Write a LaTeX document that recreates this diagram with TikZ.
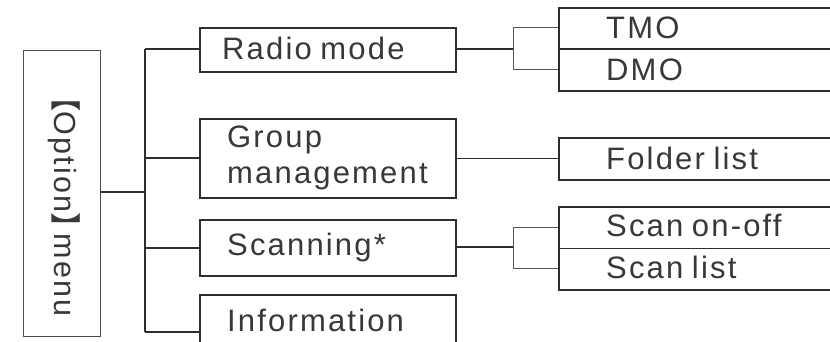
\documentclass[tikz,border=0pt]{standalone}
\usepackage{fontspec}
\setmainfont[LetterSpace=7,WordSpace=0.8]{Liberation Sans}
\newfontfamily\cjk{Noto Sans CJK SC}
\definecolor{ink}{HTML}{2E2E2E}
\definecolor{txt}{HTML}{383838}
\definecolor{thin}{HTML}{555555}
\begin{document}
\begin{tikzpicture}[x=1pt,y=-1pt,
  box/.style={draw=ink,line width=1.6pt,anchor=north west,inner sep=0pt},
  lbl/.style={anchor=base west,inner sep=0pt,text=txt,font=\fontsize{31}{34}\selectfont},
  con/.style={draw=ink,line width=1.6pt},
  brk/.style={draw=thin,line width=1pt}]
\useasboundingbox (0,0) rectangle (830,342);
\clip (0,0) rectangle (830,342);
\fill[white] (0,0) rectangle (830,342);
% menu
\node[box,draw=ink!85,line width=1.4pt,minimum width=77pt,minimum height=286pt] (menu) at (23,50) {};
\node[rotate=-90,text=txt,inner sep=0pt,font=\fontsize{30.5}{32}\selectfont] (menutxt) at (64,199) {{\cjk 【}Option{\cjk 】}\kern-0.3em menu};
% level 1 boxes
\node[box,minimum width=256pt,minimum height=44pt] (rm) at (199,27) {};
\node[box,minimum width=256pt,minimum height=79pt] (gm) at (199,118) {};
\node[box,minimum width=256pt,minimum height=56pt] (sc) at (199,219) {};
\node[box,minimum width=256pt,minimum height=60pt] (inf) at (199,294) {};
\node[lbl] (rmt) at (222,60) {Radio mode};
\node[lbl] (gmt1) at (227,147) {Group};
\node[lbl] (gmt2) at (227,183) {management};
\node[lbl] (sct) at (227,255) {Scanning*};
\node[lbl] (inft) at (227,331) {Information};
% level 2 boxes
\node[box,minimum width=290pt,minimum height=83pt] (mode) at (558,7) {};
\node[box,minimum width=290pt,minimum height=42pt] (fl) at (558,137) {};
\node[box,minimum width=290pt,minimum height=83pt] (scan) at (558,206) {};
\draw[con] (mode.west) -- (mode.east);
\draw[con] (scan.west) -- (scan.east);
\node[lbl] (tmo) at (606,39) {TMO};
\node[lbl] (dmo) at (606,81) {DMO};
\node[lbl] (flt) at (606,169) {Folder list};
\node[lbl] (sot) at (606,236) {Scan on-off};
\node[lbl] (slt) at (606,278) {Scan list};
% trunk
\coordinate (tk) at (145,192);
\coordinate (ttop) at (145,49);
\coordinate (tbot) at (145,332);
\draw[con] (menu.east |- tk) -- (tk);
\draw[con] (ttop) -- (tbot);
\draw[con] (ttop) -- (rm.west |- ttop);
\draw[con] (tk |- gm.west) -- (gm.west);
\draw[con] (tk |- sc.west) -- (sc.west);
\draw[con] (tbot) -- (inf.west |- tbot);
% radio mode branch
\coordinate (b1) at (513,49);
\draw[con,line width=1.2pt] (rm.east |- b1) -- (b1);
\draw[brk] (mode.west |- 0,28) -| (513,70) -- (mode.west |- 0,70);
% folder
\draw[con,line width=1.2pt] (gm.east |- fl.west) -- (fl.west);
% scan branch
\coordinate (b2) at (513,247);
\draw[con,line width=1.2pt] (sc.east |- b2) -- (b2);
\draw[brk] (scan.west |- 0,227) -| (513,268) -- (scan.west |- 0,268);
\end{tikzpicture}
\end{document}
